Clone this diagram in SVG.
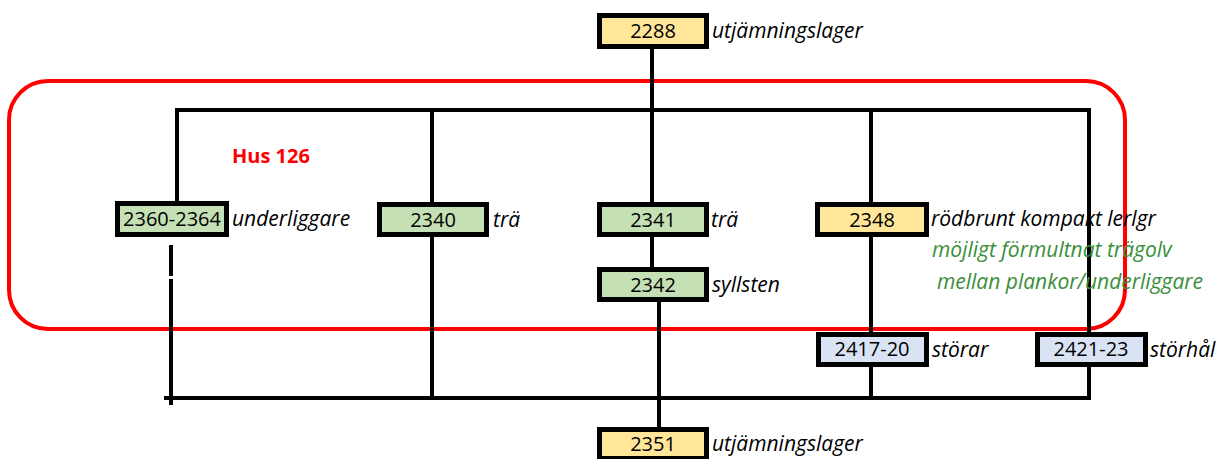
<svg xmlns="http://www.w3.org/2000/svg" width="1229" height="459" viewBox="0 0 1229 459">
<style>
.box{stroke:#000;stroke-width:5}
.y{fill:#FFE699}
.g{fill:#C5E0B4}
.b{fill:#DAE3F3}
.num{font-family:"Open Sans","Noto Sans",sans-serif;font-size:20px;fill:#000;text-anchor:middle}
.lab{font-family:"Open Sans","Noto Sans",sans-serif;font-size:21px;font-style:italic;fill:#000}
.grn{fill:#3A8E3A}
.ln{stroke:#000;stroke-width:4;fill:none}
</style>
<rect x="9" y="81" width="1116" height="248" rx="39" ry="39" fill="none" stroke="#FF0000" stroke-width="4"/>
<g id="connectors">
<line class="ln" x1="652" y1="49" x2="652" y2="202"/>
<line class="ln" x1="175" y1="110" x2="1091" y2="110"/>
<line class="ln" x1="177" y1="110" x2="177" y2="201"/>
<line class="ln" x1="432" y1="110" x2="432" y2="202"/>
<line class="ln" x1="871" y1="110" x2="871" y2="332"/>
<line class="ln" x1="1089" y1="108" x2="1089" y2="332"/>
<line class="ln" x1="171" y1="245" x2="171" y2="276"/>
<line class="ln" x1="171" y1="279" x2="171" y2="405"/>
<line class="ln" x1="432" y1="237" x2="432" y2="396"/>
<line class="ln" x1="652" y1="237" x2="652" y2="267"/>
<line class="ln" x1="659" y1="302" x2="659" y2="427"/>
<line class="ln" x1="871" y1="367" x2="871" y2="397"/>
<line class="ln" x1="1089" y1="367" x2="1089" y2="399"/>
<line class="ln" x1="164" y1="398" x2="1091" y2="398"/>
</g>
<g id="n2288">
<rect class="box y" x="599.5" y="15.5" width="107" height="31"/>
<text class="num" x="653" y="38">2288</text>
<text class="lab" x="712" y="38">utjämningslager</text>
</g>
<g id="n2360">
<rect class="box g" x="117.5" y="203.5" width="109" height="31"/>
<text class="num" x="172" y="226">2360-2364</text>
<text class="lab" x="232" y="226">underliggare</text>
</g>
<g id="n2340">
<rect class="box g" x="379.5" y="204.5" width="107" height="30"/>
<text class="num" x="433" y="227">2340</text>
<text class="lab" x="493" y="227">trä</text>
</g>
<g id="n2341">
<rect class="box g" x="599.5" y="204.5" width="107" height="30"/>
<text class="num" x="653" y="227">2341</text>
<text class="lab" x="711" y="227">trä</text>
</g>
<g id="n2348">
<rect class="box y" x="817.5" y="204.5" width="109" height="30"/>
<text class="num" x="872" y="227">2348</text>
<text class="lab" x="931" y="226">rödbrunt kompakt lerlgr</text>
<text class="lab grn" x="932" y="257">möjligt förmultnat trägolv</text>
<text class="lab grn" x="937" y="289">mellan plankor/underliggare</text>
</g>
<g id="n2342">
<rect class="box g" x="599.5" y="269.5" width="107" height="30"/>
<text class="num" x="653" y="292">2342</text>
<text class="lab" x="712" y="292">syllsten</text>
</g>
<g id="n2417">
<rect class="box b" x="818.5" y="334.5" width="108" height="30"/>
<text class="num" x="872" y="356">2417-20</text>
<text class="lab" x="932" y="357">störar</text>
</g>
<g id="n2421">
<rect class="box b" x="1037.5" y="334.5" width="108" height="30"/>
<text class="num" x="1091" y="356">2421-23</text>
<text class="lab" x="1150" y="357">störhål</text>
</g>
<g id="n2351">
<rect class="box y" x="599.5" y="429.5" width="107" height="29"/>
<text class="num" x="653" y="451">2351</text>
<text class="lab" x="712" y="451">utjämningslager</text>
</g>
<g id="hus126">
<text x="232" y="163" font-family="Open Sans, Noto Sans, sans-serif" font-size="20" font-weight="bold" fill="#FF0000">Hus 126</text>
</g>
</svg>
